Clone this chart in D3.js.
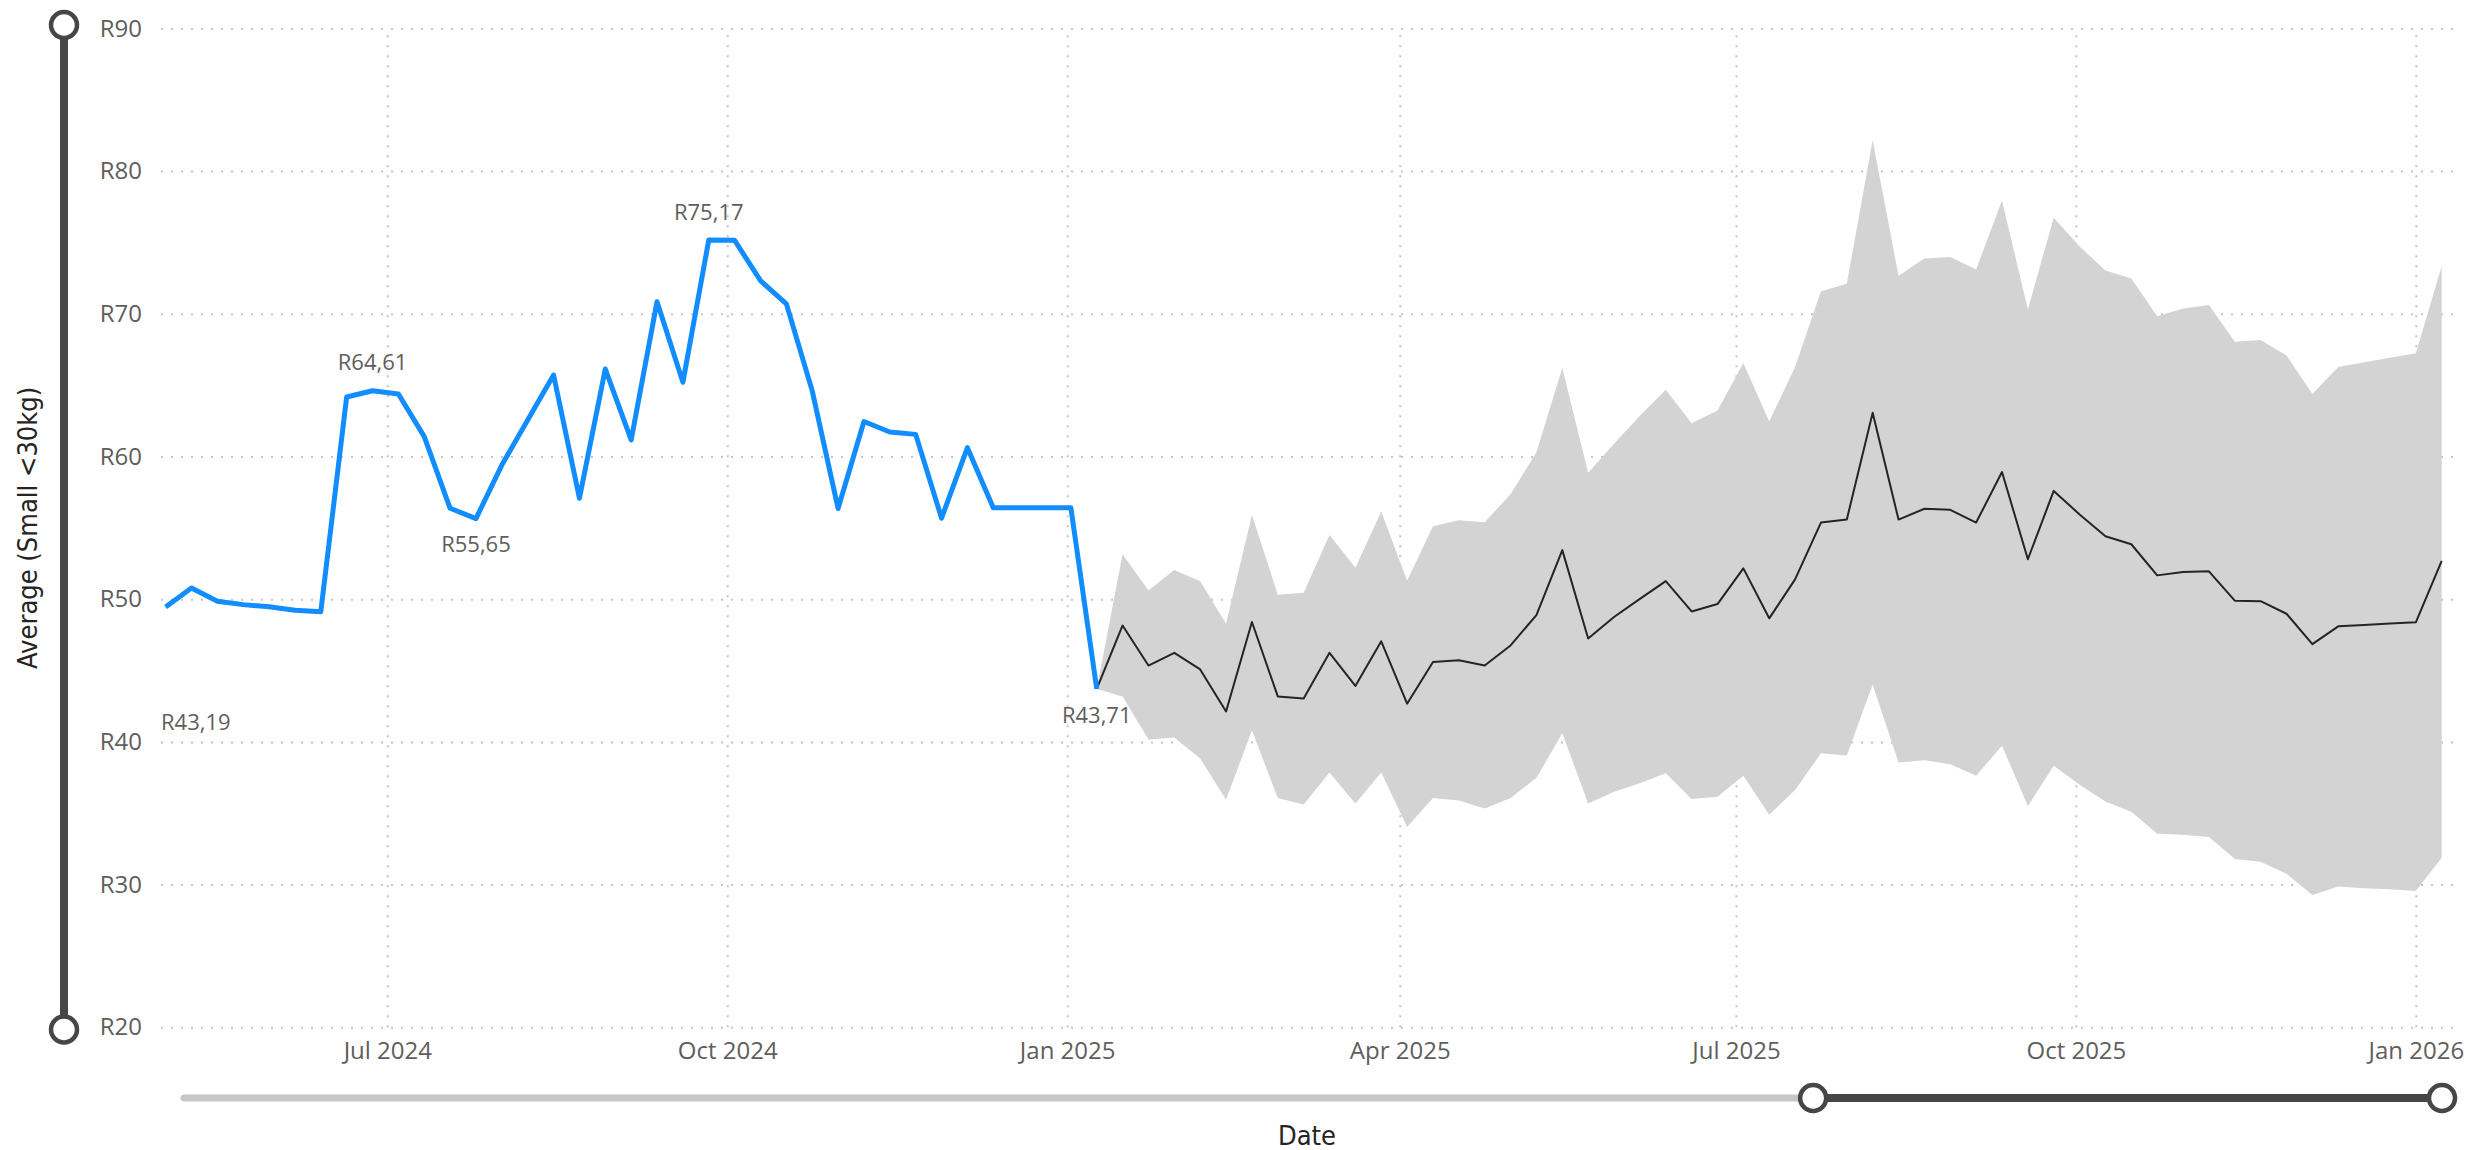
<!DOCTYPE html>
<html>
<head>
<meta charset="utf-8">
<script src="https://cdn.jsdelivr.net/npm/d3@7"></script>
<style>
    html, body { margin: 0; padding: 0; background: #fff; }
    svg text { font-family: "Segoe UI", "Open Sans", sans-serif; }
    .axis text { fill: #605e5c; font-size: 24px; }
    .axis .domain { display: none; }
    .axis line { stroke: #c4c4c4; stroke-width: 2; stroke-dasharray: 2,8; }
    .title { font-family: "DejaVu Sans Condensed", "DejaVu Sans", sans-serif; font-stretch: condensed; fill: #252423; font-size: 27px; }
    .dataLabel { fill: #605e5c; font-size: 22px; }
</style>
</head>
<body>
<svg id="chart"></svg>
<script>
// weekly average price, actuals (first one sits just left of the visible range)
var actualDates = ["2024-04-25", "2024-05-02", "2024-05-09", "2024-05-16", "2024-05-23", "2024-05-30",
    "2024-06-06", "2024-06-13", "2024-06-20", "2024-06-27", "2024-07-04", "2024-07-11", "2024-07-18",
    "2024-07-25", "2024-08-01", "2024-08-08", "2024-08-15", "2024-08-22", "2024-08-29", "2024-09-05",
    "2024-09-12", "2024-09-19", "2024-09-26", "2024-10-03", "2024-10-10", "2024-10-17", "2024-10-24",
    "2024-10-31", "2024-11-07", "2024-11-14", "2024-11-21", "2024-11-28", "2024-12-05", "2024-12-12",
    "2024-12-19", "2024-12-26", "2025-01-02", "2025-01-09"];
var actualValues = [43.19, 49.45, 50.78, 49.85, 49.62, 49.47,
    49.22, 49.12, 64.17, 64.61, 64.38, 61.39, 56.37,
    55.65, 59.40, 62.56, 65.71, 57.07, 66.13, 61.16,
    70.85, 65.20, 75.17, 75.15, 72.32, 70.70, 64.60,
    56.36, 62.45, 61.72, 61.55, 55.68, 60.62, 56.41,
    56.41, 56.41, 56.41, 43.71];

// forecast with its confidence band
var forecastDates = ["2025-01-09", "2025-01-16", "2025-01-23", "2025-01-30", "2025-02-06", "2025-02-13",
    "2025-02-20", "2025-02-27", "2025-03-06", "2025-03-13", "2025-03-20", "2025-03-27", "2025-04-03",
    "2025-04-10", "2025-04-17", "2025-04-24", "2025-05-01", "2025-05-08", "2025-05-15", "2025-05-22",
    "2025-05-29", "2025-06-05", "2025-06-12", "2025-06-19", "2025-06-26", "2025-07-03", "2025-07-10",
    "2025-07-17", "2025-07-24", "2025-07-31", "2025-08-07", "2025-08-14", "2025-08-21", "2025-08-28",
    "2025-09-04", "2025-09-11", "2025-09-18", "2025-09-25", "2025-10-02", "2025-10-09", "2025-10-16",
    "2025-10-23", "2025-10-30", "2025-11-06", "2025-11-13", "2025-11-20", "2025-11-27", "2025-12-04",
    "2025-12-11", "2025-12-18", "2025-12-25", "2026-01-01", "2026-01-08"];
var forecastMean = [43.71, 48.16, 45.35, 46.24, 45.08, 42.13,
    48.40, 43.19, 43.04, 46.24, 43.92, 47.05, 42.68,
    45.60, 45.72, 45.35, 46.76, 48.89, 53.44, 47.25,
    48.75, 50.02, 51.27, 49.14, 49.66, 52.16, 48.66,
    51.39, 55.37, 55.58, 63.06, 55.58, 56.34, 56.26,
    55.37, 58.91, 52.80, 57.59, 55.94, 54.41, 53.85,
    51.67, 51.91, 51.95, 49.90, 49.86, 48.98, 46.85,
    48.10, 48.20, 48.30, 48.38, 52.68];
var forecastUpper = [43.71, 53.15, 50.61, 52.04, 51.25, 48.28,
    55.90, 50.32, 50.46, 54.50, 52.21, 56.15, 51.30,
    55.11, 55.53, 55.40, 57.35, 60.30, 66.20, 58.87,
    60.90, 62.86, 64.67, 62.33, 63.22, 66.56, 62.45,
    66.28, 71.58, 72.11, 82.16, 72.67, 73.88, 73.98,
    73.11, 77.94, 70.30, 76.73, 74.72, 73.03, 72.47,
    69.82, 70.38, 70.62, 68.05, 68.17, 67.08, 64.38,
    66.28, 66.60, 66.92, 67.24, 73.33];
var forecastLower = [43.71, 43.19, 40.17, 40.31, 38.84, 35.94,
    40.81, 36.06, 35.62, 37.86, 35.69, 37.86, 34.04,
    36.06, 35.89, 35.33, 36.06, 37.48, 40.61, 35.69,
    36.50, 37.11, 37.80, 35.99, 36.15, 37.63, 34.90,
    36.63, 39.20, 39.04, 44.03, 38.56, 38.72, 38.44,
    37.63, 39.73, 35.50, 38.32, 36.99, 35.82, 35.10,
    33.57, 33.49, 33.33, 31.80, 31.60, 30.76, 29.27,
    29.87, 29.75, 29.67, 29.55, 31.88];

var yTicks = [20, 30, 40, 50, 60, 70, 80, 90];
var labelDates = ["2024-04-25", "2024-06-27", "2024-07-25", "2024-09-26", "2025-01-09"];
var labelSides = ["below", "above", "below", "above", "below"];

var xTitle = "Date";
var yTitle = "Average (Small <30kg)";

var parseDate = d3.timeParse("%Y-%m-%d");
var rand = d3.formatLocale({decimal: ",", thousands: " ", grouping: [3], currency: ["R", ""]});
var fmtLabel = rand.format("$.2f");
var fmtTick = rand.format("$.0f");

var width = 2466, height = 1150;
var plotLeft = 161, plotRight = 2453, plotTop = 28.4, plotBottom = 1027.3;

var actual = actualDates.map(function(d, i) { return {date: parseDate(d), value: actualValues[i]}; });
var forecast = forecastDates.map(function(d, i) {
    return {date: parseDate(d), mean: forecastMean[i], upper: forecastUpper[i], lower: forecastLower[i]};
});

var svg = d3.select("#chart").attr("width", width).attr("height", height);

var x = d3.scaleTime()
    .domain([actual[1].date, forecast[forecast.length - 1].date])
    .range([plotLeft + 4.6, plotRight - 11.3]);
var y = d3.scaleLinear()
    .domain([20, 90])
    .range([plotBottom, plotTop]);

svg.append("clipPath").attr("id", "plotClip")
    .append("rect")
    .attr("x", plotLeft).attr("y", 0)
    .attr("width", plotRight - plotLeft).attr("height", plotBottom + 10);

// axes + dotted gridlines
var yAxis = d3.axisLeft(y)
    .tickValues(yTicks)
    .tickFormat(fmtTick)
    .tickSizeInner(-(plotRight - plotLeft))
    .tickSizeOuter(0)
    .tickPadding(19);
svg.append("g")
    .attr("class", "axis")
    .attr("transform", "translate(" + plotLeft + ",0)")
    .call(yAxis);

var xAxis = d3.axisBottom(x)
    .ticks(d3.timeMonth.every(3))
    .tickFormat(d3.timeFormat("%b %Y"))
    .tickSizeInner(-(plotBottom - plotTop))
    .tickSizeOuter(0)
    .tickPadding(15);
svg.append("g")
    .attr("class", "axis")
    .attr("transform", "translate(0," + plotBottom + ")")
    .call(xAxis);

var plot = svg.append("g").attr("clip-path", "url(#plotClip)");

var band = d3.area()
    .x(function(d) { return x(d.date); })
    .y0(function(d) { return y(d.lower); })
    .y1(function(d) { return y(d.upper); });
plot.append("path")
    .datum(forecast)
    .attr("d", band)
    .attr("fill", "#d3d3d3");

var meanLine = d3.line()
    .x(function(d) { return x(d.date); })
    .y(function(d) { return y(d.mean); });
plot.append("path")
    .datum(forecast)
    .attr("d", meanLine)
    .attr("fill", "none")
    .attr("stroke", "#252423")
    .attr("stroke-width", 2)
    .attr("stroke-linejoin", "round");

var actualLine = d3.line()
    .x(function(d) { return x(d.date); })
    .y(function(d) { return y(d.value); });
plot.append("path")
    .datum(actual.filter(function(d) { return d.date >= x.domain()[0]; }))
    .attr("d", actualLine)
    .attr("fill", "none")
    .attr("stroke", "#118dff")
    .attr("stroke-width", 5)
    .attr("stroke-linejoin", "round");

// data labels, kept inside the plot like Power BI does
var labelled = labelDates.map(function(d, i) {
    var pt = actual[actualDates.indexOf(d)];
    return {date: pt.date, value: pt.value, side: labelSides[i]};
});
svg.append("g").selectAll("text")
    .data(labelled).enter().append("text")
    .attr("class", "dataLabel")
    .attr("text-anchor", "middle")
    .attr("dy", "0.35em")
    .attr("y", function(d) { return y(d.value) + (d.side == "above" ? -28 : 26); })
    .text(function(d) { return fmtLabel(d.value); })
    .each(function(d) {
        var w = this.getComputedTextLength();
        d3.select(this).attr("x", Math.max(x(d.date), plotLeft + w / 2));
    });

// axis titles
svg.append("text")
    .attr("class", "title")
    .attr("text-anchor", "middle")
    .attr("x", (plotLeft + plotRight) / 2)
    .attr("y", 1145)
    .text(xTitle);
svg.append("text")
    .attr("class", "title")
    .attr("text-anchor", "middle")
    .attr("transform", "translate(28," + (plotTop + plotBottom) / 2 + ") rotate(-90)")
    .attr("dy", "0.35em")
    .text(yTitle);

// range sliders (visual only)
var sliderColor = "#474644";
var vSlider = svg.append("g");
vSlider.append("line")
    .attr("x1", 64).attr("x2", 64).attr("y1", 25).attr("y2", 1029.5)
    .attr("stroke", sliderColor).attr("stroke-width", 8);
vSlider.selectAll("circle").data([25, 1029.5]).enter().append("circle")
    .attr("cx", 64).attr("cy", function(d) { return d; }).attr("r", 13)
    .attr("fill", "#fff").attr("stroke", sliderColor).attr("stroke-width", 4.5);

var trackLeft = 184, trackRight = 2442, trackY = 1098;
var selStart = 0.7215;
var handleX = trackLeft + selStart * (trackRight - trackLeft);
var hSlider = svg.append("g");
hSlider.append("line")
    .attr("x1", trackLeft).attr("x2", handleX).attr("y1", trackY).attr("y2", trackY)
    .attr("stroke", "#c8c6c4").attr("stroke-width", 7).attr("stroke-linecap", "round");
hSlider.append("line")
    .attr("x1", handleX).attr("x2", trackRight).attr("y1", trackY).attr("y2", trackY)
    .attr("stroke", sliderColor).attr("stroke-width", 8);
hSlider.selectAll("circle").data([handleX, trackRight]).enter().append("circle")
    .attr("cx", function(d) { return d; }).attr("cy", trackY).attr("r", 13)
    .attr("fill", "#fff").attr("stroke", sliderColor).attr("stroke-width", 4.5);
</script>
</body>
</html>
